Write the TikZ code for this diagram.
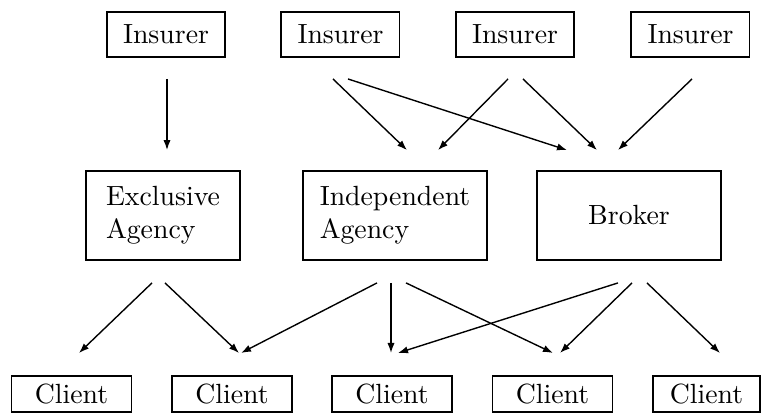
\documentclass[tikz,border=0pt]{standalone}
\usepackage{tikz}
\usetikzlibrary{arrows.meta,calc}
\tikzset{
  >=Latex,
  insurer/.style={
    draw,
    line width=0.7pt,
    minimum width=42.5pt,
    minimum height=16.2pt,
    inner sep=0pt
  },
  agency/.style={
    draw,
    line width=0.7pt,
    minimum width=66.2pt,
    minimum height=32pt,
    inner sep=0pt,
    align=left
  },
  client/.style={
    draw,
    line width=0.7pt,
    minimum width=43.2pt,
    minimum height=13pt,
    inner sep=0pt
  },
  link/.style={
    line width=0.5pt,
    -{Latex[length=3.6pt,width=2.6pt]}
  }
}
\newcommand{\linklevels}[3]{%
  \foreach \from/\fs/\to/\ts in {#3}{
    \draw[link] ($(\from.south)+(\fs,-#1)$) -- ($(\to.north)+(\ts,#2)$);
  }
}

\begin{document}
\begin{tikzpicture}[x=0.36pt,y=0.36pt]
  \useasboundingbox (0,0) rectangle (762,419);

  \node[insurer] (I-1) at (166.0,384.5) {Insurer};
  \node[insurer] (I-2) at (340.5,384.5) {Insurer};
  \node[insurer] (I-3) at (515.0,384.5) {Insurer};
  \node[insurer] (I-4) at (690.5,384.5) {Insurer};

  \node[agency,minimum width=55.4pt] (EA) at (163,203.5) {Exclusive\\Agency};
  \node[agency] (IA) at (395,203.5) {Independent\\Agency};
  \node[agency] (BR) at (629,203.5) {Broker};

  \node[client] (C-1) at (71.5,25) {Client};
  \node[client] (C-2) at (232.0,25) {Client};
  \node[client] (C-3) at (392.0,25) {Client};
  \node[client] (C-4) at (552.5,25) {Client};
  \node[client,minimum width=38.5pt] (C-5) at (706.5,25) {Client};

  \linklevels{21}{20}{I-1/1/EA/4, I-2/-7.5/IA/12, I-2/7.5/BR/-62,
    I-3/-7/IA/43, I-3/8/BR/-32, I-4/1.5/BR/-11}
  \linklevels{22}{22}{EA/-11/C-1/7.5, EA/2/C-2/7, IA/-18/C-2/9,
    IA/-4/C-3/-1, IA/11/C-4/0.5, BR/-11/C-3/6, BR/3/C-4/7.5,
    BR/18/C-5/13.5}
\end{tikzpicture}
\end{document}
